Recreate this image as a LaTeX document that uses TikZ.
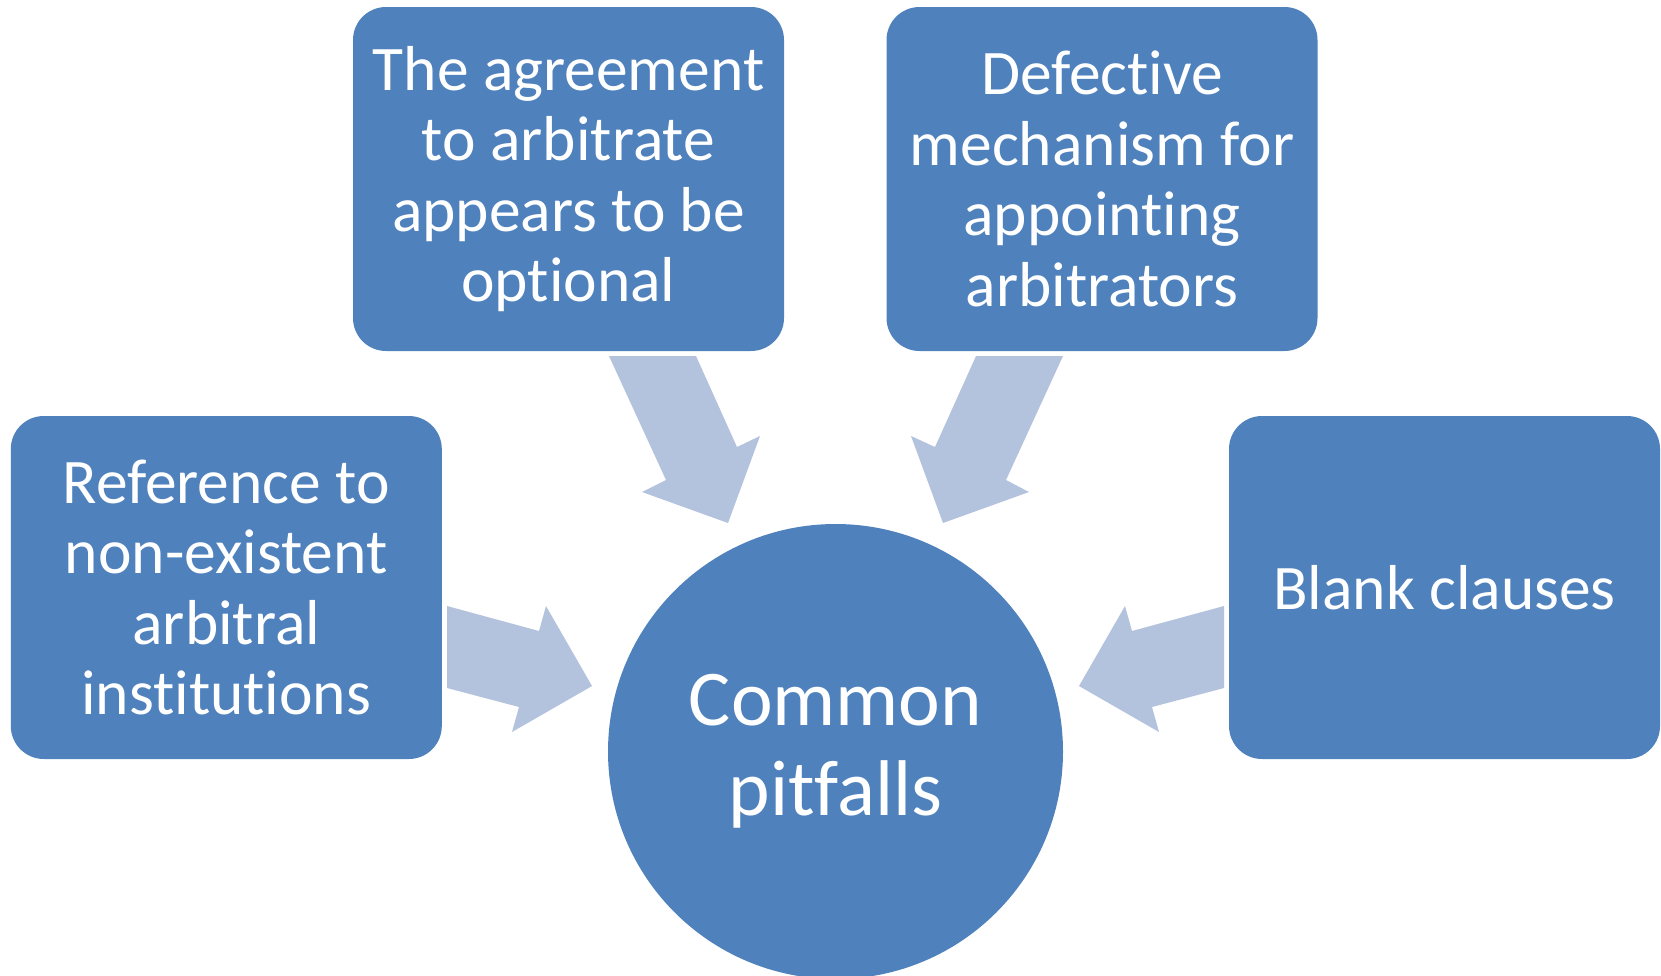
\documentclass[tikz,border=0pt]{standalone}
\usepackage{fontspec}
\setmainfont{Carlito}[Ligatures=NoCommon]
\definecolor{boxblue}{HTML}{4F81BD}
\definecolor{flowblue}{HTML}{B3C2DD}
\tikzset{
  pitfall/.style={rectangle, rounded corners=33pt, fill=boxblue, text=white,
    inner sep=0pt, minimum width=431pt, minimum height=344pt, align=center,
    font=\fontsize{63.5}{70.5}\selectfont},
  hubnode/.style={circle, fill=boxblue, text=white, inner sep=0pt,
    minimum size=455pt, align=center, font=\fontsize{79}{90}\selectfont},
  flow/.style={fill=flowblue, draw=none}
}
\begin{document}
\begin{tikzpicture}[x=1pt,y=-1pt]
\useasboundingbox (0,0) rectangle (1661,975);
\clip (0,0) rectangle (1661,975);

% outer causes
\node[pitfall] (optional) at (568.5,179) {The agreement\\to arbitrate\\appears to be\\optional};
\node[pitfall] (appoint) at (1102,179) {Defective\\mechanism for\\appointing\\arbitrators};
\node[pitfall, minimum height=343pt] (nonexist) at (226.3,587.5) {Reference to\\non-existent\\arbitral\\institutions};
\node[pitfall, minimum height=343pt] (blank) at (1444.5,587.5) {Blank clauses};

% central topic
\node[hubnode] (hub) at (835.5,751.5) {Common\\pitfalls};

% block arrows converging on the centre
\fill[flow] (609,356) -- (696,356) -- (737,447) -- (760,436) -- (728,523)
  -- (642,492) -- (666,480) -- cycle;
\fill[flow] (1063,356) -- (976,356) -- (935,447) -- (911,436) -- (943,523)
  -- (1029,492) -- (1006,480) -- cycle;
\fill[flow] (447,606) -- (539,631) -- (546,606) -- (592,686) -- (512,732)
  -- (519,707) -- (447,688) -- cycle;
\fill[flow] (1224,606) -- (1132,631) -- (1125,606) -- (1079,686) -- (1159,732)
  -- (1152,707) -- (1224,688) -- cycle;
\end{tikzpicture}
\end{document}
